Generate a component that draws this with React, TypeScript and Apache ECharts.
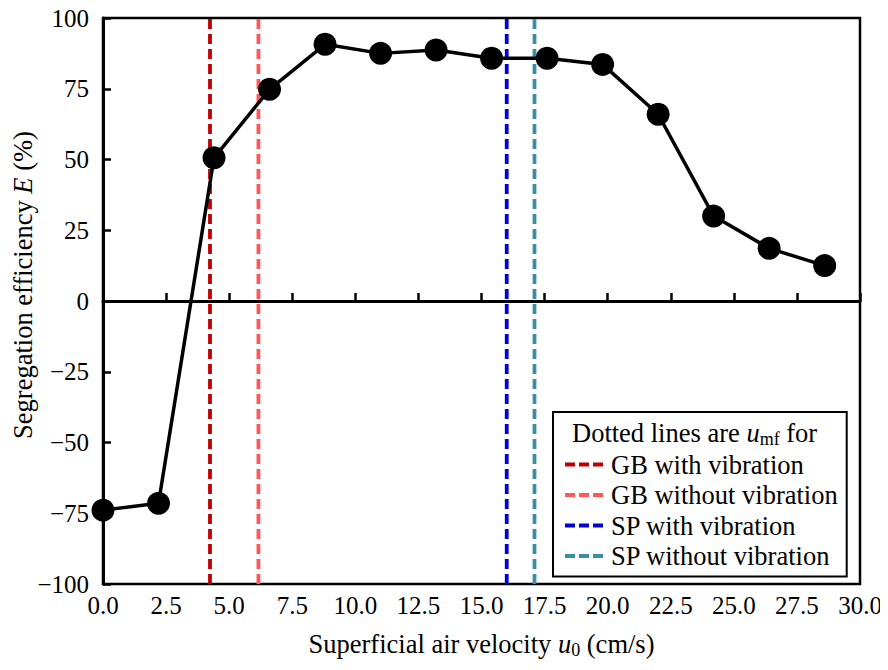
import React, { useEffect, useRef } from "react";
import * as echarts from "echarts";

const velocity = [0, 2.2, 4.4, 6.6, 8.8, 11.0, 13.2, 15.4, 17.6, 19.8, 22.0, 24.2, 26.4, 28.6];
const efficiency = [-73.9, -71.5, 50.6, 74.8, 90.7, 87.5, 88.7, 85.8, 85.8, 83.6, 66.0, 30.0, 18.6, 12.5];

const umfNames = ["GB with vibration", "GB without vibration", "SP with vibration", "SP without vibration"];
const umfValues = [4.24, 6.16, 16.0, 17.1];
const umfColors = ["#C00000", "#FF5757", "#0000D8", "#3A8FA6"];

const xTicks = { min: 0, max: 30, interval: 2.5 };
const yTicks = { min: -100, max: 100, interval: 25 };

const FONT = "'Times New Roman', 'Liberation Serif', serif";
const DASH_ICON = "path://M0,0h10v4h-10z M14,0h10v4h-10z M28,0h10v4h-10z";
const TITLE_SIZE = 26.5;
const TICK_SIZE = 25;

export default function App() {
  const ref = useRef<HTMLDivElement>(null);
  useEffect(() => {
    if (!ref.current) return;
    const chart = echarts.init(ref.current, null, { renderer: "svg" });
    const umfSeries = umfNames.map((name, i) => ({
      name,
      type: "line",
      data: [
        [umfValues[i], yTicks.min],
        [umfValues[i], yTicks.max],
      ],
      symbol: "none",
      color: umfColors[i],
      lineStyle: { color: umfColors[i], width: 3.8, type: [10, 5] },
      z: 1,
    }));
    const normal = { fontFamily: FONT, fontSize: TITLE_SIZE, fontStyle: "normal", fontWeight: "normal", color: "#000" };
    const italic = { fontFamily: FONT, fontSize: TITLE_SIZE, fontStyle: "italic", color: "#000" };
    const sub = { fontFamily: FONT, fontSize: 18, fontStyle: "normal", color: "#000", padding: [13, 0, 0, 0] };
    chart.setOption({
      animation: false,
      textStyle: { fontFamily: FONT, fontStyle: "normal" },
      grid: {
        left: 103,
        right: 28,
        top: 18,
        bottom: 86,
        show: true,
        borderColor: "#000",
        borderWidth: 2.5,
        containLabel: false,
        outerBoundsMode: "none",
      },
      title: {
        text: "{n|Dotted lines are }{i|u}{sub|mf}{n| for}",
        left: 567,
        top: 412,
        textStyle: {
          fontFamily: FONT,
          fontSize: TITLE_SIZE,
          fontWeight: "normal",
          fontStyle: "normal",
          color: "#000",
          rich: { n: normal, i: italic, sub },
        },
      },
      legend: {
        orient: "vertical",
        left: 553,
        top: 412,
        padding: [39, 9, 7, 12],
        borderColor: "#000",
        borderWidth: 2,
        backgroundColor: "#fff",
        itemWidth: 38,
        itemHeight: 4,
        itemGap: 3.5,
        data: umfNames.map((n) => ({ name: n, icon: DASH_ICON })),
        textStyle: { fontFamily: FONT, fontStyle: "normal", fontSize: TITLE_SIZE, color: "#000", lineHeight: 26, padding: [0, 0, 0, 3] },
      },
      xAxis: {
        type: "value",
        min: xTicks.min,
        max: xTicks.max,
        interval: xTicks.interval,
        splitLine: { show: false },
        axisLine: { show: true, lineStyle: { color: "#000", width: 3 } },
        axisTick: { show: true, inside: true, length: 8, lineStyle: { color: "#000", width: 2.5 } },
        axisLabel: {
          fontFamily: FONT,
          fontStyle: "normal",
          fontSize: TICK_SIZE,
          color: "#000",
          margin: 9,
          formatter: (v: number) => v.toFixed(1),
        },
        name: "{n|Superficial air velocity }{i|u}{sub|0}{n| (cm/s)}",
        nameLocation: "middle",
        nameGap: 44,
        nameMoveOverlap: false,
        nameTextStyle: {
          fontFamily: FONT,
          fontStyle: "normal",
          fontSize: TITLE_SIZE,
          color: "#000",
          rich: { n: normal, i: italic, sub },
        },
      },
      yAxis: {
        type: "value",
        min: yTicks.min,
        max: yTicks.max,
        interval: yTicks.interval,
        splitLine: { show: false },
        axisLine: { show: true, lineStyle: { color: "#000", width: 3 } },
        axisTick: { show: true, inside: true, length: 8, lineStyle: { color: "#000", width: 2.5 } },
        axisLabel: {
          fontFamily: FONT,
          fontStyle: "normal",
          fontSize: TICK_SIZE,
          color: "#000",
          margin: 14,
          formatter: (v: number) => (v < 0 ? "\u2212" + Math.abs(v) : String(v)),
        },
        name: "{n|Segregation efficiency }{i|E}{n| (%)}",
        nameLocation: "middle",
        nameGap: 67,
        nameMoveOverlap: false,
        nameTextStyle: {
          fontFamily: FONT,
          fontStyle: "normal",
          fontSize: TITLE_SIZE,
          color: "#000",
          padding: [0, 0, 0, 32],
          rich: { n: normal, i: italic },
        },
      },
      series: [
        ...umfSeries,
        {
          name: "E",
          type: "line",
          data: velocity.map((v, i) => [v, efficiency[i]]),
          symbol: "circle",
          symbolSize: 23,
          color: "#000",
          itemStyle: { color: "#000" },
          lineStyle: { color: "#000", width: 3.5 },
          z: 3,
          markLine: {
            silent: true,
            symbol: "none",
            label: { show: false },
            lineStyle: { color: "#000", width: 2, type: "solid" },
            data: [{ yAxis: 0 }],
          },
        },
      ],
    });
    return () => chart.dispose();
  }, []);
  return <div ref={ref} style={{ width: 888, height: 670, margin: -8 }} />;
}
